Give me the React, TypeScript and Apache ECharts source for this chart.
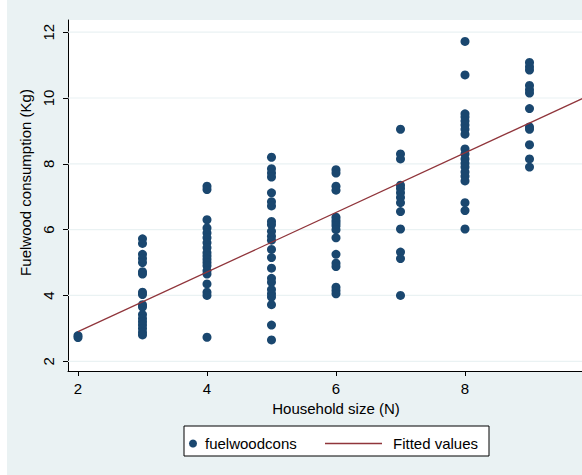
import React, { useEffect, useRef } from "react";
import * as echarts from "echarts";

// Fuelwood consumption (Kg) observed for each household size
const householdSizes = [2, 3, 4, 5, 6, 7, 8, 9];
const consumptionBySize: number[][] = [
  [2.78, 2.72],
  [5.72, 5.58, 5.25, 5.12, 5.0, 4.72, 4.65, 4.1, 4.03, 3.72, 3.65, 3.42, 3.3, 3.2, 3.1, 3.0, 2.88, 2.8],
  [7.32, 7.22, 6.3, 6.05, 5.9, 5.75, 5.6, 5.45, 5.3, 5.2, 5.1, 5.0, 4.9, 4.75, 4.65, 4.35, 4.1, 4.0, 2.73],
  [8.2, 7.85, 7.72, 7.6, 7.12, 6.85, 6.72, 6.25, 6.15, 5.95, 5.8, 5.68, 5.4, 5.15, 4.83, 4.52, 4.4, 4.18, 4.05, 3.95, 3.72, 3.1, 2.65],
  [7.82, 7.72, 7.32, 7.2, 6.38, 6.28, 6.2, 6.12, 6.0, 5.75, 5.25, 4.98, 4.88, 4.25, 4.15, 4.05],
  [9.05, 8.3, 8.15, 7.35, 7.25, 7.12, 6.98, 6.82, 6.55, 6.02, 5.32, 5.12, 4.0],
  [11.72, 10.7, 9.52, 9.42, 9.3, 9.18, 9.05, 8.9, 8.45, 8.3, 8.15, 8.02, 7.9, 7.75, 7.62, 7.48, 6.82, 6.58, 6.02],
  [11.08, 10.95, 10.85, 10.38, 10.25, 10.15, 9.68, 9.12, 9.05, 8.58, 8.15, 7.9],
];

// Fitted values (linear fit) end points
const fittedX = [2, 10.15];
const fittedY = [2.9, 10.28];

const xTicks = [2, 4, 6, 8];
const yTicks = [2, 4, 6, 8, 10, 12];

const X_MIN = 1.845;
const X_MAX = 10.155;

const FONT = "Liberation Sans, Arial, sans-serif";

export default function App() {
  const ref = useRef<HTMLDivElement>(null);

  useEffect(() => {
    document.body.style.margin = "0";
    if (!ref.current) return;
    const chart = echarts.init(ref.current, undefined, { renderer: "svg" });

    const scatterData: number[][] = [];
    householdSizes.forEach((s, i) => {
      consumptionBySize[i].forEach((v) => scatterData.push([s, v]));
    });
    const fitData = fittedX.map((x, i) => [x, fittedY[i]]);

    const gridSeries = yTicks.map((v) => ({
      type: "line",
      name: "grid" + v,
      data: [
        [X_MIN, v],
        [X_MAX, v],
      ],
      showSymbol: false,
      symbol: "none",
      silent: true,
      lineStyle: { color: "#EAF2F3", width: 1.2 },
      z: 1,
    }));

    chart.setOption({
      animation: false,
      backgroundColor: "#EAF2F3",
      textStyle: { fontFamily: FONT },
      grid: {
        left: 68,
        right: 0,
        top: 20,
        bottom: 104,
        show: true,
        backgroundColor: "#ffffff",
        borderWidth: 0,
      },
      xAxis: {
        type: "value",
        min: X_MIN,
        max: X_MAX,
        name: "Household size (N)",
        nameLocation: "middle",
        nameGap: 30,
        nameTextStyle: { fontSize: 15, color: "#000", fontFamily: FONT },
        axisLine: { show: true, onZero: false, lineStyle: { color: "#000", width: 1 } },
        axisTick: { show: true, length: 5, customValues: xTicks, lineStyle: { color: "#000" } },
        axisLabel: { customValues: xTicks, fontSize: 15, color: "#000", margin: 10, fontFamily: FONT },
        splitLine: { show: false },
      },
      yAxis: {
        type: "value",
        min: 1.705,
        max: 12.37,
        name: "Fuelwood consumption (Kg)",
        nameLocation: "middle",
        nameGap: 33,
        nameTextStyle: { fontSize: 15, color: "#000", fontFamily: FONT, padding: [0, 0, 0, 26] },
        axisLine: { show: true, onZero: false, lineStyle: { color: "#000", width: 1 } },
        axisTick: { show: true, length: 5, customValues: yTicks, lineStyle: { color: "#000" } },
        axisLabel: { customValues: yTicks, rotate: 90, fontSize: 15, color: "#000", margin: 12, fontFamily: FONT },
        splitLine: { show: false },
      },
      legend: [
        {
          data: ["fuelwoodcons"],
          left: 184,
          top: 431,
          icon: "circle",
          itemWidth: 8,
          itemHeight: 8,
          textStyle: { fontSize: 15, color: "#000", fontFamily: FONT, padding: [0, 0, 0, 3] },
          selectedMode: false,
        },
        {
          data: [{ name: "Fitted values", icon: "rect" }],
          left: 320,
          top: 431,
          itemWidth: 57,
          itemHeight: 1.5,
          textStyle: { fontSize: 15, color: "#000", fontFamily: FONT, padding: [0, 0, 0, 6] },
          selectedMode: false,
        },
      ],
      graphic: [
        {
          type: "rect",
          left: 0,
          top: 0,
          shape: { width: 7, height: 475 },
          style: { fill: "#ffffff" },
          silent: true,
        },
        {
          type: "rect",
          left: 183.5,
          top: 425.5,
          shape: { width: 305, height: 30 },
          style: { fill: "#ffffff", stroke: "#000", lineWidth: 1 },
          silent: true,
          z: 0,
        },
      ],
      series: [
        ...gridSeries,
        {
          type: "scatter",
          name: "fuelwoodcons",
          data: scatterData,
          symbol: "circle",
          symbolSize: 9,
          itemStyle: { color: "#1A476F", opacity: 1 },
          z: 3,
        },
        {
          type: "line",
          name: "Fitted values",
          data: fitData,
          showSymbol: false,
          symbol: "none",
          lineStyle: { color: "#90353B", width: 1.3 },
          itemStyle: { color: "#90353B" },
          z: 4,
        },
      ],
    });

    return () => chart.dispose();
  }, []);

  return (
    <div style={{ width: 582, height: 475, overflow: "hidden", position: "relative" }}>
      <div ref={ref} style={{ width: 604, height: 475 }} />
    </div>
  );
}
